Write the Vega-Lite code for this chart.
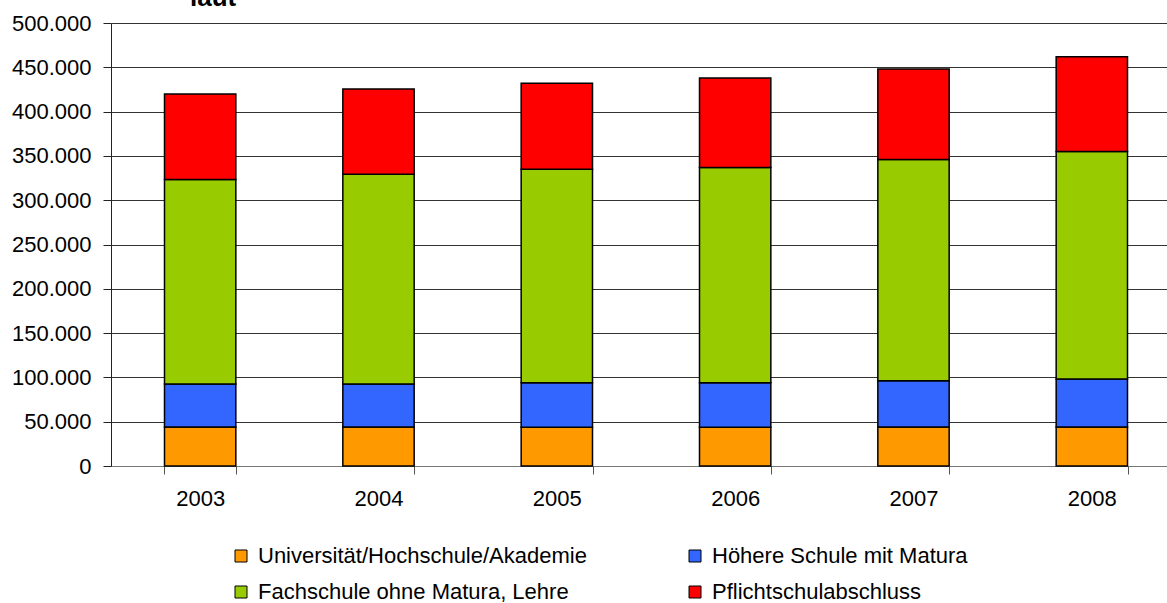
{
  "$schema": "https://vega.github.io/schema/vega-lite/v6.json",
  "width": 1056,
  "height": 443,
  "autosize": {"type": "none"},
  "padding": {"left": 111, "top": 23, "right": 0, "bottom": 137},
  "background": "white",
  "title": {"text": "laut", "anchor": "start", "frame": "group", "dx": 79, "offset": -20, "fontSize": 26, "fontWeight": "bold", "font": "Liberation Sans", "color": "black", "baseline": "alphabetic"},
  "data": {"values": [
    {"year": "2003", "cat": "Universität/Hochschule/Akademie", "rank": 1, "value": 44000},
    {"year": "2003", "cat": "Höhere Schule mit Matura", "rank": 2, "value": 48500},
    {"year": "2003", "cat": "Fachschule ohne Matura, Lehre", "rank": 3, "value": 231000},
    {"year": "2003", "cat": "Pflichtschulabschluss", "rank": 4, "value": 96500},
    {"year": "2004", "cat": "Universität/Hochschule/Akademie", "rank": 1, "value": 44000},
    {"year": "2004", "cat": "Höhere Schule mit Matura", "rank": 2, "value": 48500},
    {"year": "2004", "cat": "Fachschule ohne Matura, Lehre", "rank": 3, "value": 236700},
    {"year": "2004", "cat": "Pflichtschulabschluss", "rank": 4, "value": 96300},
    {"year": "2005", "cat": "Universität/Hochschule/Akademie", "rank": 1, "value": 43800},
    {"year": "2005", "cat": "Höhere Schule mit Matura", "rank": 2, "value": 50200},
    {"year": "2005", "cat": "Fachschule ohne Matura, Lehre", "rank": 3, "value": 241000},
    {"year": "2005", "cat": "Pflichtschulabschluss", "rank": 4, "value": 97000},
    {"year": "2006", "cat": "Universität/Hochschule/Akademie", "rank": 1, "value": 43800},
    {"year": "2006", "cat": "Höhere Schule mit Matura", "rank": 2, "value": 50200},
    {"year": "2006", "cat": "Fachschule ohne Matura, Lehre", "rank": 3, "value": 243000},
    {"year": "2006", "cat": "Pflichtschulabschluss", "rank": 4, "value": 101000},
    {"year": "2007", "cat": "Universität/Hochschule/Akademie", "rank": 1, "value": 44000},
    {"year": "2007", "cat": "Höhere Schule mit Matura", "rank": 2, "value": 52300},
    {"year": "2007", "cat": "Fachschule ohne Matura, Lehre", "rank": 3, "value": 249700},
    {"year": "2007", "cat": "Pflichtschulabschluss", "rank": 4, "value": 102000},
    {"year": "2008", "cat": "Universität/Hochschule/Akademie", "rank": 1, "value": 44000},
    {"year": "2008", "cat": "Höhere Schule mit Matura", "rank": 2, "value": 54200},
    {"year": "2008", "cat": "Fachschule ohne Matura, Lehre", "rank": 3, "value": 256800},
    {"year": "2008", "cat": "Pflichtschulabschluss", "rank": 4, "value": 107000}
  ]},
  "mark": {"type": "bar", "stroke": "black", "strokeWidth": 1.5},
  "encoding": {
    "x": {
      "field": "year", "type": "nominal",
      "scale": {"range": [0, 1070], "paddingInner": 0.6, "paddingOuter": 0.3},
      "axis": {"title": null, "labelAngle": 0, "tickBand": "extent", "tickSize": 8, "tickColor": "#555", "domainColor": "#777", "labelPadding": 14, "labelFontSize": 22, "labelFont": "Liberation Sans", "labelColor": "black", "grid": false}
    },
    "y": {
      "field": "value", "type": "quantitative", "aggregate": "sum", "stack": "zero",
      "scale": {"domain": [0, 500000], "nice": false},
      "axis": {"title": null, "values": [0, 50000, 100000, 150000, 200000, 250000, 300000, 350000, 400000, 450000, 500000], "format": ",d", "tickSize": 8, "tickColor": "#222", "domainColor": "#222", "labelPadding": 12, "labelFontSize": 22, "labelFont": "Liberation Sans", "labelColor": "black", "grid": true, "gridColor": "#333", "gridWidth": 1, "gridOpacity": 1}
    },
    "color": {
      "field": "cat", "type": "nominal",
      "scale": {
        "domain": ["Universität/Hochschule/Akademie", "Fachschule ohne Matura, Lehre", "Höhere Schule mit Matura", "Pflichtschulabschluss"],
        "range": ["#FF9900", "#99CC00", "#3366FF", "#FF0000"]
      },
      "legend": {
        "title": null, "orient": "none", "legendX": 119, "legendY": 522, "columns": 2, "columnPadding": 97, "rowPadding": 14, "padding": 0,
        "symbolType": "square", "symbolSize": 144, "symbolStrokeColor": "black", "symbolStrokeWidth": 1, "symbolOpacity": 1,
        "labelFontSize": 22, "labelFont": "Liberation Sans", "labelColor": "black", "labelOffset": 6, "labelLimit": 500
      }
    },
    "order": {"field": "rank", "type": "quantitative", "sort": "ascending"}
  },
  "config": {
    "locale": {"number": {"decimal": ",", "thousands": ".", "grouping": [3], "currency": ["", " €"]}},
    "view": {"stroke": null},
    "axis": {"labelFontWeight": "normal"}
  }
}
